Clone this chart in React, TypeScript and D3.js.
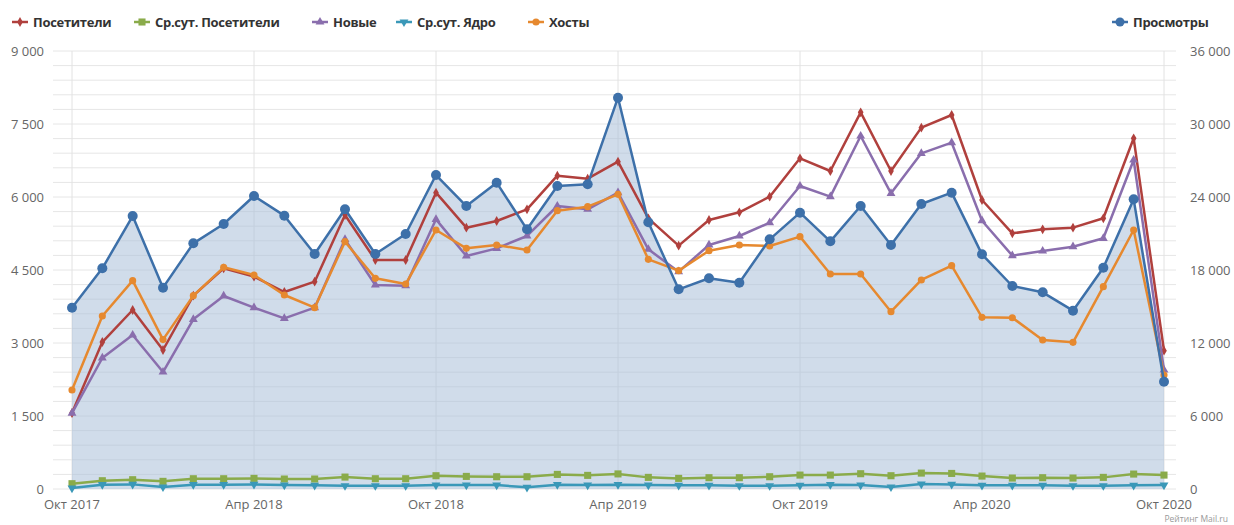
import * as d3 from "d3";

// Oct 2017 .. Oct 2020, monthly
const months = [
  "2017-10", "2017-11", "2017-12", "2018-01", "2018-02", "2018-03", "2018-04", "2018-05", "2018-06",
  "2018-07", "2018-08", "2018-09", "2018-10", "2018-11", "2018-12", "2019-01", "2019-02", "2019-03",
  "2019-04", "2019-05", "2019-06", "2019-07", "2019-08", "2019-09", "2019-10", "2019-11", "2019-12",
  "2020-01", "2020-02", "2020-03", "2020-04", "2020-05", "2020-06", "2020-07", "2020-08", "2020-09",
  "2020-10",
];

const tickMonths = ["2017-10", "2018-04", "2018-10", "2019-04", "2019-10", "2020-04", "2020-10"];
const tickLabels = ["Окт 2017", "Апр 2018", "Окт 2018", "Апр 2019", "Окт 2019", "Апр 2020", "Окт 2020"];

const visitors = [
  1562, 3020, 3678, 2856, 3973, 4534, 4363, 4048, 4260, 5630, 4705, 4705, 6089, 5370, 5507, 5747,
  6438, 6377, 6726, 5562, 5000, 5527, 5685, 6007, 6795, 6534, 7740, 6534, 7425, 7685, 5938, 5253,
  5336, 5370, 5562, 7206, 2842,
];
const avgVisitors = [
  109, 170, 191, 157, 211, 211, 218, 205, 205, 245, 211, 211, 273, 259, 252, 252, 300, 280, 310,
  239, 218, 232, 232, 252, 286, 286, 314, 273, 327, 320, 266, 225, 232, 225, 239, 307, 286,
];
const newVisitors = [
  1560, 2692, 3164, 2404, 3486, 3966, 3726, 3507, 3726, 5130, 4192, 4178, 5541, 4788, 4945, 5199,
  5815, 5747, 6089, 4925, 4466, 5014, 5199, 5472, 6226, 6007, 7253, 6075, 6897, 7116, 5513, 4795,
  4890, 4979, 5151, 6760, 2445,
];
const avgCore = [
  20, 89, 95, 41, 89, 89, 95, 82, 75, 68, 68, 68, 82, 82, 82, 34, 89, 82, 89, 82, 75, 75, 68, 68,
  75, 89, 82, 41, 102, 95, 75, 75, 75, 68, 68, 75, 82,
];
const hosts = [
  2034, 3555, 4281, 3070, 3973, 4555, 4397, 3986, 3726, 5082, 4329, 4212, 5322, 4945, 5014, 4911,
  5719, 5801, 6055, 4719, 4486, 4897, 5014, 4993, 5185, 4418, 4418, 3644, 4295, 4589, 3527, 3520,
  3062, 3014, 4157, 5322, 2342,
];
const views = [
  14904, 18137, 22438, 16548, 20192, 21781, 24082, 22466, 19315, 22990, 19315, 20959, 25808, 23260,
  25178, 21342, 24904, 25043, 32164, 21918, 16411, 17318, 16959, 20521, 22712, 20357, 23260, 20055,
  23424, 24356, 19288, 16685, 16164, 14657, 18192, 23808, 8821,
];

const leftTicks = [0, 1500, 3000, 4500, 6000, 7500, 9000];
const rightTicks = [0, 6000, 12000, 18000, 24000, 30000, 36000];

const W = 1234, H = 525;
const top = 51, bottom = 489;

const x = d3.scalePoint<string>().domain(months).range([72, 1164]);
const yL = d3.scaleLinear().domain([0, 9000]).range([bottom, top]);
const yR = d3.scaleLinear().domain([0, 36000]).range([bottom, top]);

const fmt = (v: number) => d3.format(",")(v).replace(/,/g, " ");

type Series = {
  name: string;
  values: number[];
  color: string;
  symbol: d3.SymbolType;
  size: number;
  rotate?: number;
  legendX: number;
};

const leftSeries: Series[] = [
  { name: "Посетители", values: visitors, color: "#b0403d", symbol: d3.symbolDiamond, size: 28, legendX: 20 },
  { name: "Ср.сут. Посетители", values: avgVisitors, color: "#8aab4a", symbol: d3.symbolSquare, size: 50, legendX: 142 },
  { name: "Новые", values: newVisitors, color: "#8a6ead", symbol: d3.symbolTriangle, size: 34, legendX: 320 },
  { name: "Ср.сут. Ядро", values: avgCore, color: "#3a98b8", symbol: d3.symbolTriangle, size: 34, rotate: 180, legendX: 404 },
  { name: "Хосты", values: hosts, color: "#e6892f", symbol: d3.symbolCircle, size: 40, legendX: 536 },
];

const viewsColor = "#3d70a9";

export default function App() {
  const lineL = d3.line<number>().x((_, i) => x(months[i])!).y((v) => yL(v));
  const lineR = d3.line<number>().x((_, i) => x(months[i])!).y((v) => yR(v));
  const areaR = d3.area<number>().x((_, i) => x(months[i])!).y0(bottom).y1((v) => yR(v));
  const minor = d3.range(0, 9001, 300);
  const font = "'Open Sans', 'Noto Sans', sans-serif";

  return (
    <svg width={W} height={H} style={{ position: "absolute", left: 0, top: 0, background: "#fff" }} fontFamily={font}>
      {/* grid */}
      {minor.map((v) => (
        <line key={v} x1={53} x2={1176} y1={yL(v)} y2={yL(v)} stroke="#e6e6e6" strokeWidth={1} />
      ))}
      {tickMonths.map((m) => (
        <line key={m} x1={x(m)} x2={x(m)} y1={top} y2={bottom} stroke="#e2e2e2" strokeWidth={1} />
      ))}

      {/* views area */}
      <path d={areaR(views) || ""} fill="#a9bfd9" fillOpacity={0.55} />

      {/* left axis series */}
      {leftSeries.map((s) => (
        <g key={s.name}>
          <path d={lineL(s.values) || ""} fill="none" stroke={s.color} strokeWidth={2.5} strokeLinejoin="round" />
          {s.values.map((v, i) => (
            <path
              key={i}
              d={d3.symbol().type(s.symbol).size(s.size)() || ""}
              transform={`translate(${x(months[i])},${yL(v)}) rotate(${s.rotate || 0})`}
              fill={s.color}
            />
          ))}
        </g>
      ))}

      {/* views line */}
      <path d={lineR(views) || ""} fill="none" stroke={viewsColor} strokeWidth={2.5} strokeLinejoin="round" />
      {views.map((v, i) => (
        <circle key={i} cx={x(months[i])} cy={yR(v)} r={5} fill={viewsColor} />
      ))}

      {/* axes labels */}
      {leftTicks.map((v) => (
        <text key={v} x={44} y={yL(v) + 4.5} textAnchor="end" fontSize={13} fill="#666">{fmt(v)}</text>
      ))}
      {rightTicks.map((v) => (
        <text key={v} x={1190} y={yR(v) + 4.5} textAnchor="start" fontSize={13} fill="#666">{fmt(v)}</text>
      ))}
      {tickMonths.map((m, i) => (
        <text key={m} x={x(m)} y={509} textAnchor="middle" fontSize={13} fill="#666">{tickLabels[i]}</text>
      ))}

      {/* legend */}
      {leftSeries.map((s) => (
        <g key={s.name} transform={`translate(${s.legendX},22)`}>
          <line x1={-8} x2={8} y1={0} y2={0} stroke={s.color} strokeWidth={2.5} />
          <path d={d3.symbol().type(s.symbol).size(s.size)() || ""} transform={`rotate(${s.rotate || 0})`} fill={s.color} />
          <text x={13} y={4.5} fontSize={13} fontWeight="bold" fill="#333" letterSpacing={-0.3}>{s.name}</text>
        </g>
      ))}
      <g transform="translate(1120,22)">
        <line x1={-8} x2={8} y1={0} y2={0} stroke={viewsColor} strokeWidth={2.5} />
        <circle r={4.5} fill={viewsColor} />
        <text x={13} y={4.5} fontSize={13} fontWeight="bold" fill="#333" letterSpacing={-0.3}>Просмотры</text>
      </g>

      <text x={1228} y={522} textAnchor="end" fontSize={8.5} fill="#999">Рейтинг Mail.ru</text>
    </svg>
  );
}
